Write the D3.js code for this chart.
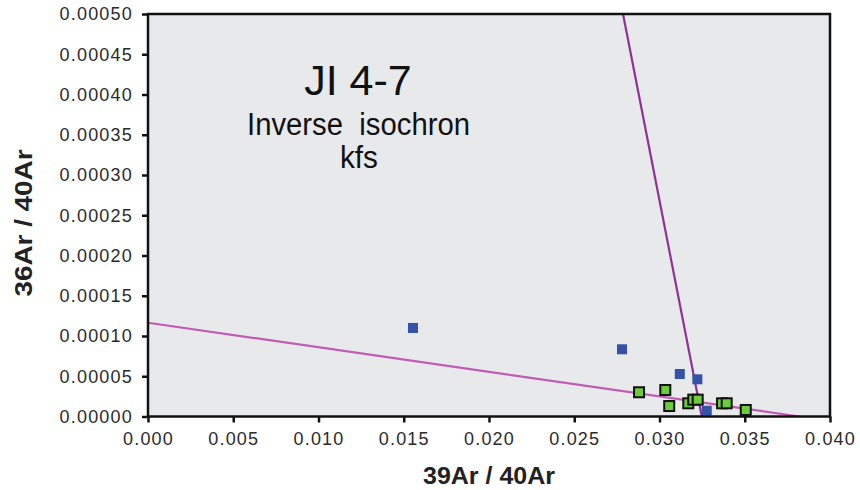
<!DOCTYPE html>
<html>
<head>
<meta charset="utf-8">
<script src="https://cdn.jsdelivr.net/npm/d3@7"></script>
<style>
  body { margin: 0; background: #fff; }
  text { font-family: "Liberation Sans", Arial, sans-serif; }
</style>
</head>
<body>
<svg id="chart" width="860" height="490"></svg>
<script>
/*************************** Data ***************************/
// steps shown in blue (excluded from the fit)
var blueX = [0.01554, 0.02780, 0.03119, 0.03222, 0.03277];
var blueY = [0.000110, 0.0000835, 0.0000528, 0.0000462, 0.0000072];
// steps shown in green (used for the isochron)
var greenX = [0.02880, 0.03034, 0.03057, 0.03169, 0.03198, 0.03224, 0.03367, 0.03394, 0.03506];
var greenY = [0.0000301, 0.0000329, 0.0000130, 0.0000164, 0.0000209, 0.0000209, 0.0000164, 0.0000164, 0.0000081];
// regression lines, end points
var fitShallow = [[0.0, 0.0001165], [0.0382, 0.0]];
var fitSteep = [[0.02786, 0.0005], [0.03248, 0.0]];
var xTicks = [0.000, 0.005, 0.010, 0.015, 0.020, 0.025, 0.030, 0.035, 0.040];
var yTicks = [0.00000, 0.00005, 0.00010, 0.00015, 0.00020, 0.00025, 0.00030, 0.00035, 0.00040, 0.00045, 0.00050];

/*************************** Chart ***************************/
var svg = d3.select("#chart");
var plotLeft = 148, plotRight = 830, plotTop = 14, plotBottom = 416.5;

var x = d3.scaleLinear().domain([0, 0.04]).range([plotLeft, plotRight]);
var y = d3.scaleLinear().domain([0, 0.0005]).range([plotBottom, plotTop]);

svg.append("rect")
   .attr("x", plotLeft).attr("y", plotTop)
   .attr("width", plotRight - plotLeft).attr("height", plotBottom - plotTop)
   .attr("fill", "#e8e9eb");

svg.append("clipPath").attr("id", "plotclip")
   .append("rect")
   .attr("x", plotLeft).attr("y", plotTop)
   .attr("width", plotRight - plotLeft).attr("height", plotBottom - plotTop);

// titles inside the plot
var title = svg.append("g").attr("fill", "#111");
title.append("text").attr("x", 358).attr("y", 95)
     .attr("text-anchor", "middle").attr("font-size", 43)
     .text("JI 4-7");
title.append("text").attr("x", 358.5).attr("y", 135)
     .attr("text-anchor", "middle").attr("font-size", 31)
     .attr("textLength", 223).attr("lengthAdjust", "spacingAndGlyphs")
     .attr("xml:space", "preserve")
     .text("Inverse  isochron");
title.append("text").attr("x", 359).attr("y", 168)
     .attr("text-anchor", "middle").attr("font-size", 31)
     .attr("textLength", 38).attr("lengthAdjust", "spacingAndGlyphs")
     .text("kfs");

// fit lines
var line = d3.line().x(function(d){ return x(d[0]); }).y(function(d){ return y(d[1]); });
var lines = svg.append("g").attr("clip-path", "url(#plotclip)").attr("fill", "none");
lines.append("path").datum(fitShallow).attr("d", line)
     .attr("stroke", "#c05cb4").attr("stroke-width", 2.2);
lines.append("path").datum(fitSteep).attr("d", line)
     .attr("stroke", "#8f3296").attr("stroke-width", 2.2);

// points
var blue = blueX.map(function(v, i){ return [v, blueY[i]]; });
var green = greenX.map(function(v, i){ return [v, greenY[i]]; });

svg.append("g").selectAll("rect")
   .data(blue).enter().append("rect")
   .attr("x", function(d){ return x(d[0]) - 5; })
   .attr("y", function(d){ return y(d[1]) - 5; })
   .attr("width", 10).attr("height", 10)
   .attr("fill", "#3352a8");

svg.append("g").selectAll("rect")
   .data(green).enter().append("rect")
   .attr("x", function(d){ return x(d[0]) - 5; })
   .attr("y", function(d){ return y(d[1]) - 5; })
   .attr("width", 10).attr("height", 10)
   .attr("fill", "#6ccc3c").attr("stroke", "#111").attr("stroke-width", 2);

// frame
svg.append("rect")
   .attr("x", plotLeft).attr("y", plotTop)
   .attr("width", plotRight - plotLeft).attr("height", plotBottom - plotTop)
   .attr("fill", "none").attr("stroke", "#111").attr("stroke-width", 2.5);

// axes
var xAxis = d3.axisBottom(x).tickValues(xTicks).tickFormat(d3.format(".3f"))
              .tickSizeInner(6).tickSizeOuter(0).tickPadding(10);
var yAxis = d3.axisLeft(y).tickValues(yTicks).tickFormat(d3.format(".5f"))
              .tickSizeInner(6).tickSizeOuter(0).tickPadding(9);

var gx = svg.append("g").attr("transform", "translate(0," + plotBottom + ")").call(xAxis);
var gy = svg.append("g").attr("transform", "translate(" + plotLeft + ",0)").call(yAxis);

[gx, gy].forEach(function(g){
    g.select(".domain").remove();
    g.selectAll(".tick line").attr("stroke", "#111").attr("stroke-width", 2.5);
    g.selectAll(".tick text").attr("fill", "#2b2b2b").attr("font-size", 18)
     .attr("letter-spacing", 1.2)
     .style("font-family", "'Liberation Sans', Arial, sans-serif");
});

// axis titles
svg.append("text").attr("x", 489).attr("y", 484)
   .attr("text-anchor", "middle").attr("font-size", 23).attr("font-weight", "bold")
   .attr("fill", "#222")
   .attr("textLength", 132).attr("lengthAdjust", "spacingAndGlyphs")
   .text("39Ar / 40Ar");
svg.append("text")
   .attr("transform", "translate(32,223) rotate(-90)")
   .attr("text-anchor", "middle").attr("font-size", 24).attr("font-weight", "bold")
   .attr("fill", "#222")
   .attr("textLength", 147).attr("lengthAdjust", "spacingAndGlyphs")
   .text("36Ar / 40Ar");
</script>
</body>
</html>
